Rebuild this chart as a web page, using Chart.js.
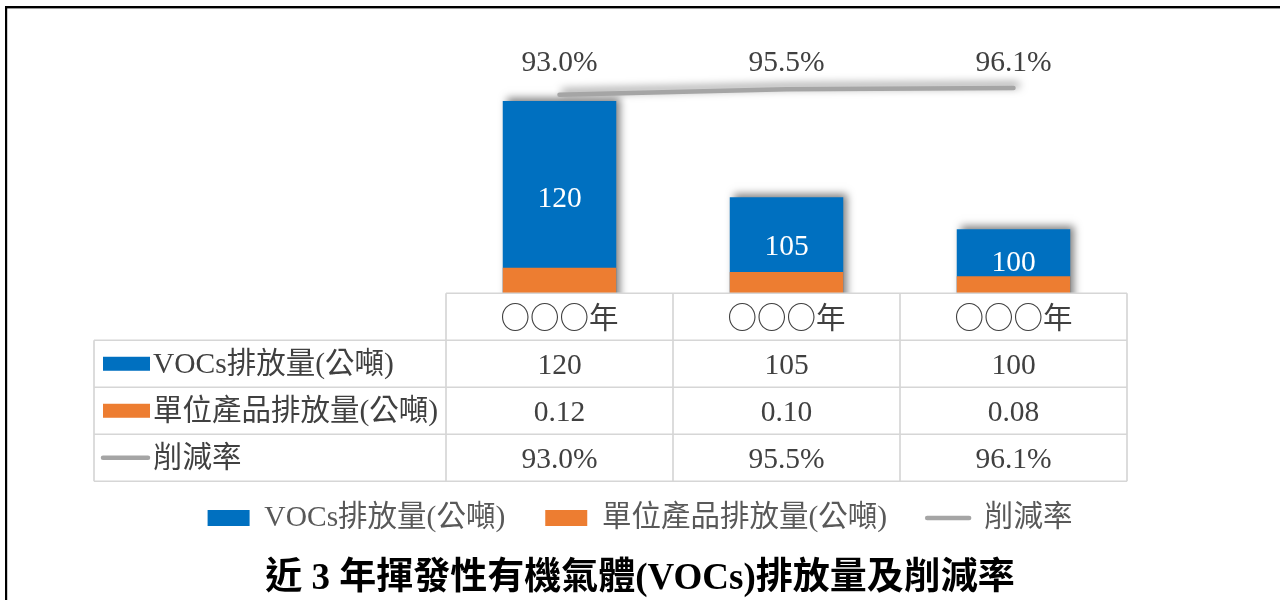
<!DOCTYPE html>
<html>
<head>
<meta charset="utf-8">
<script src="https://cdn.jsdelivr.net/npm/chart.js@4.4.1/dist/chart.umd.min.js"></script>
<style>
html,body{margin:0;padding:0;background:#fff;}
#wrap{position:relative;width:1280px;height:600px;}
</style>
</head>
<body>
<div id="wrap"><canvas id="c" width="1280" height="600"></canvas></div>
<script>
// ---- data ----
const years = ['○○○年', '○○○年', '○○○年'];
const vocsEmission = [120, 105, 100];        // VOCs排放量(公噸)
const unitEmission = [0.12, 0.10, 0.08];     // 單位產品排放量(公噸)
const reductionRate = [93.0, 95.5, 96.1];    // 削減率 (%)
const seriesNames = ['VOCs排放量(公噸)', '單位產品排放量(公噸)', '削減率'];
const titleText = '近 3 年揮發性有機氣體(VOCs)排放量及削減率';

// ---- styles ----
const FONT = '"Liberation Serif", "Noto Sans CJK TC", serif';
const CJK_FONT = '"Noto Sans CJK TC", sans-serif';
const FS = 29.5;
const ROW_H = 47;
const TXT_DY = 2;
const BLUE = '#0070c0', ORANGE = '#ed7d31', GRAY = '#a5a5a5';
const TEXT = '#404040', LEGEND_TEXT = '#595959', GRID = '#d6d6d6';
const TABLE_LEFT = 94;

const fmtRate = v => v.toFixed(1) + '%';
const tableRows = [
  vocsEmission.map(v => String(v)),
  unitEmission.map(v => v.toFixed(2)),
  reductionRate.map(fmtRate)
];

const decor = {
  id: 'decor',
  beforeDraw(chart) {
    const ctx = chart.ctx;
    ctx.save();
    ctx.fillStyle = '#000';
    ctx.fillRect(5, 6, 1275, 2.4);
    ctx.fillRect(5, 6, 2.2, 594);
    ctx.restore();
  },
  beforeDatasetDraw(chart, args) {
    const ctx = chart.ctx;
    ctx.save();
    if (args.index === 0 || args.index === 2) {
      ctx.shadowColor = 'rgba(0,0,0,0.5)';
      ctx.shadowBlur = 8;
      ctx.shadowOffsetX = 4;
      ctx.shadowOffsetY = -3;
    }
  },
  afterDatasetDraw(chart) {
    chart.ctx.restore();
  },
  afterDatasetsDraw(chart) {
    const ctx = chart.ctx;
    const xs = chart.scales.x, ys = chart.scales.y;
    ctx.save();
    ctx.shadowColor = 'transparent';
    ctx.font = FS + 'px ' + FONT;
    ctx.textAlign = 'center';
    ctx.textBaseline = 'middle';
    ctx.fillStyle = '#ffffff';
    vocsEmission.forEach((v, i) => {
      const top = ys.getPixelForValue(v);
      const base = ys.getPixelForValue(ys.min);
      ctx.fillText(String(v), xs.getPixelForValue(i), (top + base) / 2 + TXT_DY);
    });
    ctx.fillStyle = TEXT;
    reductionRate.forEach((v, i) => {
      ctx.fillText(fmtRate(v), xs.getPixelForValue(i), chart.chartArea.top + 24 + TXT_DY);
    });
    ctx.restore();
  },
  afterDraw(chart) {
    const ctx = chart.ctx;
    const area = chart.chartArea;
    const xs = chart.scales.x;
    const top = xs.top;
    const n = years.length;
    const colW = (area.right - area.left) / n;
    ctx.save();
    ctx.strokeStyle = GRID;
    ctx.lineWidth = 1.7;
    ctx.beginPath();
    ctx.moveTo(area.left, top); ctx.lineTo(area.right, top);
    for (let r = 1; r <= 4; r++) {
      ctx.moveTo(TABLE_LEFT, top + r * ROW_H);
      ctx.lineTo(area.right, top + r * ROW_H);
    }
    for (let c = 0; c <= n; c++) {
      const xx = area.left + c * colW;
      ctx.moveTo(xx, top); ctx.lineTo(xx, top + 4 * ROW_H);
    }
    ctx.moveTo(TABLE_LEFT, top + ROW_H); ctx.lineTo(TABLE_LEFT, top + 4 * ROW_H);
    ctx.stroke();

    const colors = [BLUE, ORANGE, GRAY];
    ctx.font = FS + 'px ' + FONT;
    ctx.textBaseline = 'middle';
    for (let r = 0; r < 3; r++) {
      const cy = top + (r + 1.5) * ROW_H;
      if (r < 2) {
        ctx.fillStyle = colors[r];
        ctx.fillRect(TABLE_LEFT + 9, cy - 7, 47, 14);
      } else {
        ctx.strokeStyle = colors[r];
        ctx.lineWidth = 4.5;
        ctx.lineCap = 'round';
        ctx.beginPath();
        ctx.moveTo(TABLE_LEFT + 9, cy); ctx.lineTo(TABLE_LEFT + 54, cy);
        ctx.stroke();
      }
      ctx.fillStyle = TEXT;
      ctx.textAlign = 'left';
      ctx.fillText(seriesNames[r], TABLE_LEFT + 59, cy + 1);
      ctx.textAlign = 'center';
      tableRows[r].forEach((txt, i) => {
        ctx.fillText(txt, xs.getPixelForValue(i), cy + TXT_DY);
      });
    }
    ctx.restore();
  }
};

new Chart(document.getElementById('c'), {
  type: 'bar',
  data: {
    labels: years,
    datasets: [
      {
        label: seriesNames[0], data: vocsEmission, backgroundColor: BLUE, yAxisID: 'y',
        grouped: false, barPercentage: 0.5, categoryPercentage: 1.0, order: 3, borderWidth: 0
      },
      {
        label: seriesNames[1], data: unitEmission, backgroundColor: ORANGE, yAxisID: 'y2',
        grouped: false, barPercentage: 0.5, categoryPercentage: 1.0, order: 2, borderWidth: 0
      },
      {
        type: 'line', label: seriesNames[2], data: reductionRate, borderColor: GRAY, backgroundColor: GRAY,
        borderWidth: 4.5, borderCapStyle: 'round', pointRadius: 0, tension: 0, yAxisID: 'y3', order: 1
      }
    ]
  },
  options: {
    responsive: false,
    animation: false,
    events: [],
    layout: { padding: { top: 37, left: 0, right: 0, bottom: 1.5 } },
    scales: {
      x: {
        grid: { display: false, drawTicks: false },
        border: { display: false },
        ticks: {
          padding: 0, maxRotation: 0, autoSkip: false, color: TEXT,
          font: { family: CJK_FONT, size: FS, lineHeight: ROW_H + 'px' }
        },
        afterFit(scale) { scale.height = 170; }
      },
      y: {
        position: 'left', min: 90, max: 130,
        grid: { display: false }, border: { display: false }, ticks: { display: false },
        afterFit(scale) { scale.width = 446; }
      },
      y2: {
        position: 'right', min: 0, max: 1.2,
        grid: { display: false }, border: { display: false }, ticks: { display: false },
        afterFit(scale) { scale.width = 153; }
      },
      y3: { position: 'right', min: 0, max: 120, display: false }
    },
    plugins: {
      tooltip: { enabled: false },
      legend: {
        position: 'bottom',
        labels: {
          usePointStyle: true, pointStyleWidth: 42, boxHeight: 16, padding: 40,
          color: LEGEND_TEXT,
          font: { family: FONT, size: FS },
          generateLabels(chart) {
            const ds = chart.data.datasets;
            return [
              { text: ds[0].label, fillStyle: BLUE, strokeStyle: BLUE, lineWidth: 0, pointStyle: 'rect', datasetIndex: 0, hidden: false, fontColor: LEGEND_TEXT },
              { text: ds[1].label, fillStyle: ORANGE, strokeStyle: ORANGE, lineWidth: 0, pointStyle: 'rect', datasetIndex: 1, hidden: false, fontColor: LEGEND_TEXT },
              { text: ds[2].label, fillStyle: GRAY, strokeStyle: GRAY, lineWidth: 4.5, lineCap: 'round', pointStyle: 'line', datasetIndex: 2, hidden: false, fontColor: LEGEND_TEXT }
            ];
          }
        }
      },
      title: {
        display: true, position: 'bottom', text: titleText, color: '#000',
        font: { family: FONT, size: 37, weight: 'bold', lineHeight: 1.02 },
        padding: { top: 18, bottom: 0 }
      }
    }
  },
  plugins: [decor]
});
</script>
</body>
</html>
